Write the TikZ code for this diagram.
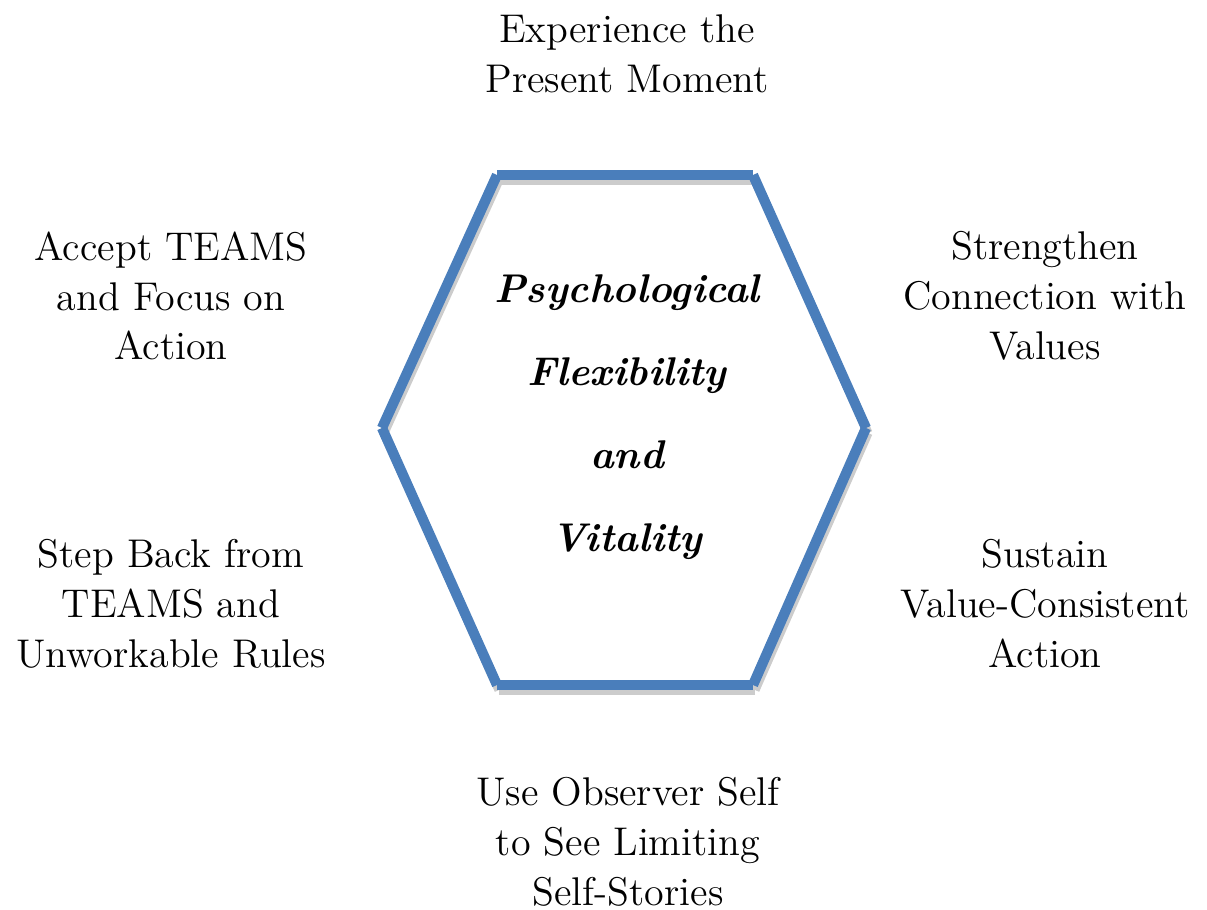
\documentclass[tikz,border=0pt]{standalone}
\usepackage[svgnames]{xcolor}
\usepackage{tikz}
\usetikzlibrary{positioning}

\definecolor{hexblue}{HTML}{4A7EBB}

\begin{document}
\begin{tikzpicture}[outer/.style={align=center,font={\fontsize{11.4}{14.2}\selectfont}},
                    core/.style={align=center,font={\fontsize{11.4}{23.6}\selectfont\bfseries\itshape}},
                    edge/.style={draw=hexblue,line width=2.9pt,line cap=butt},
                    edgeshadow/.style={draw=gray!40,line width=2.6pt,line cap=butt}]
    \useasboundingbox (0,0) rectangle (12.07,9.10);
    % hexagon corners
    \coordinate (tl) at (4.97,7.35);
    \coordinate (tr) at (7.53,7.35);
    \coordinate (rr) at (8.66,4.82);
    \coordinate (br) at (7.53,2.25);
    \coordinate (bl) at (4.97,2.25);
    \coordinate (ll) at (3.82,4.82);
    \foreach \a/\b in {tl/tr,tr/rr,rr/br,br/bl,bl/ll,ll/tl}
      \draw[edgeshadow] ([shift={(0.02,-0.05)}]\a) -- ([shift={(0.02,-0.05)}]\b);
    \foreach \a/\b in {tl/tr,tr/rr,rr/br,br/bl,bl/ll,ll/tl}
      \draw[edge] (\a) -- (\b);
    \node[core] (flex) at (6.27,4.93) {Psychological\\Flexibility\\and\\Vitality};
    \node[outer] (present) at (6.27,8.56) {Experience the\\Present Moment};
    \node[outer] (accept) at (1.71,6.14) {Accept TEAMS\\and Focus on\\Action};
    \node[outer] (values) at (10.45,6.14) {Strengthen\\Connection with\\Values};
    \node[outer] (stepback) at (1.71,3.06) {Step Back from\\TEAMS and\\Unworkable Rules};
    \node[outer] (sustain) at (10.45,3.06) {Sustain\\Value-Consistent\\Action};
    \node[outer] (observer) at (6.28,0.68) {Use Observer Self\\to See Limiting\\Self-Stories};
  \end{tikzpicture}
\end{document}
